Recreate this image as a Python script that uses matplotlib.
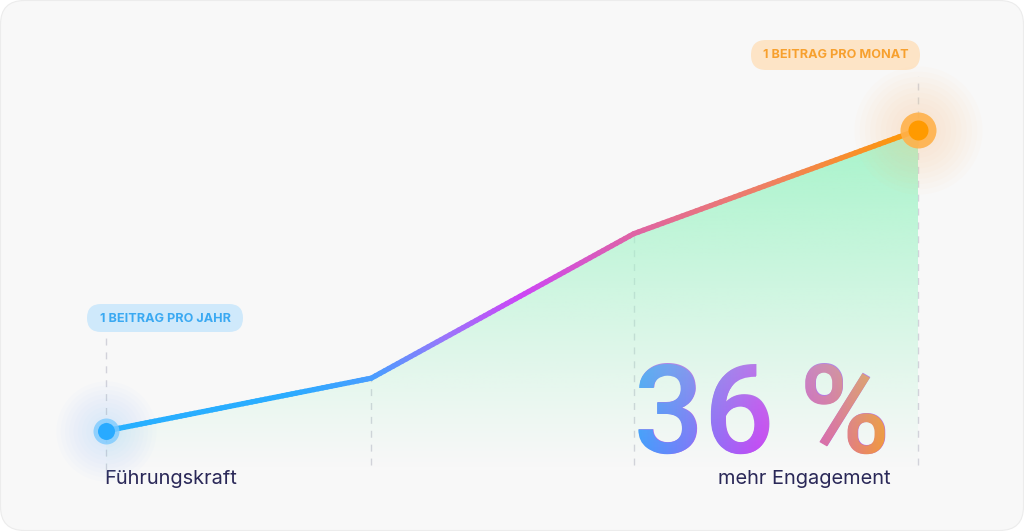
import numpy as np
import matplotlib
matplotlib.use("Agg")
import matplotlib.pyplot as plt
from matplotlib.patches import FancyBboxPatch, Polygon, PathPatch
from matplotlib.collections import LineCollection
from matplotlib.colors import LinearSegmentedColormap, to_rgb
from matplotlib.textpath import TextPath
from matplotlib.font_manager import FontProperties
from matplotlib.transforms import Affine2D, IdentityTransform

plt.rcParams['font.family'] = ['Inter', 'DejaVu Sans']

# ---- data ----
stage_pos = [0.0, 0.98, 1.95, 3.0]
engagement = [11.5, 27.0, 69.5, 100.0]
label_low = "1 BEITRAG PRO JAHR"
label_high = "1 BEITRAG PRO MONAT"
caption_left = "Führungskraft"
caption_right = "mehr Engagement"
big_number = "36\u2009%"

W, H = 1024, 531
DPI = 100
fig = plt.figure(figsize=(W / DPI, H / DPI), dpi=DPI, facecolor="white")

# background axes in pixel coordinates
bg = fig.add_axes([0, 0, 1, 1])
bg.set_xlim(0, W)
bg.set_ylim(H, 0)
bg.axis("off")
bg.add_patch(FancyBboxPatch((0.5, 0.5), W - 1, H - 1,
                            boxstyle="round,pad=0,rounding_size=24",
                            facecolor="#f8f8f8", edgecolor="#ececec", lw=0.8))

# data axes
x0, x1 = 106, 918
ybot, ytop = 470, 130
ax = fig.add_axes([x0 / W, 1 - ybot / H, (x1 - x0) / W, (ybot - ytop) / H])
ax.set_xlim(0, 3)
ax.set_ylim(0, 100)
ax.axis("off")
ax.patch.set_alpha(0)

xs = np.array(stage_pos, dtype=float)
ys = np.array(engagement, dtype=float)

# gradient fill under the line
poly = Polygon(np.column_stack([np.r_[xs, xs[-1], xs[0]], np.r_[ys, 0, 0]]),
               closed=True, facecolor="none", edgecolor="none")
ax.add_patch(poly)
n = 256
alpha = np.linspace(0, 1, n)[:, None] ** 1.1
img = np.zeros((n, 2, 4))
img[..., :3] = to_rgb("#a6f4ca")
img[..., 3] = alpha
im = ax.imshow(img, extent=[0, 3, 0, 100], origin="lower", aspect="auto", zorder=1)
im.set_clip_path(poly)

# dashed guides
dash_kw = dict(color="#d2d2da", lw=1.0, linestyle=(0, (5, 5)), zorder=0.5, clip_on=False)
ax.plot([xs[0], xs[0]], [0, 39.5], **dash_kw)
ax.plot([xs[1], xs[1]], [1.5, ys[1]], **dash_kw)
ax.plot([xs[2], xs[2]], [1.5, ys[2]], **dash_kw)
ax.plot([xs[3], xs[3]], [1.5, 116], **dash_kw)

# gradient line
line_cmap = LinearSegmentedColormap.from_list("ln", [
    (0.0, "#28b0ff"), (0.22, "#2aacff"), (0.33, "#4a9dff"), (0.42, "#9c74fb"),
    (0.51, "#cc46f6"), (0.65, "#df64a4"), (0.82, "#ef8160"), (1.0, "#ff9a00")])
seg_x, seg_y = [], []
for i in range(len(xs) - 1):
    t = np.linspace(0, 1, 60, endpoint=(i == len(xs) - 2))
    seg_x.append(xs[i] + (xs[i + 1] - xs[i]) * t)
    seg_y.append(ys[i] + (ys[i + 1] - ys[i]) * t)
px = np.concatenate(seg_x)
py = np.concatenate(seg_y)
pts = np.column_stack([px, py]).reshape(-1, 1, 2)
segs = np.concatenate([pts[:-1], pts[1:]], axis=1)
lc = LineCollection(segs, colors=line_cmap(px[:-1] / 3), linewidths=3.8,
                    capstyle="round", joinstyle="round", zorder=3, clip_on=False)
ax.add_collection(lc)

def s_of(r):
    return (2 * r * 0.72) ** 2

# glows and markers
for r in np.linspace(16, 50, 9):
    ax.scatter([xs[0]], [ys[0]], s=s_of(r), color="#8ccbff", alpha=0.028, lw=0, zorder=2, clip_on=False)
ax.scatter([xs[0]], [ys[0]], s=s_of(13), color="#7ccaff", alpha=0.8, lw=0, zorder=4, clip_on=False)
ax.scatter([xs[0]], [ys[0]], s=s_of(8.5), color="#28aaff", lw=0, zorder=5, clip_on=False)

for r in np.linspace(22, 64, 9):
    ax.scatter([xs[-1]], [ys[-1]], s=s_of(r), color="#ffcf95", alpha=0.04, lw=0, zorder=2, clip_on=False)
ax.scatter([xs[-1]], [ys[-1]], s=s_of(18), color="#ffb14a", alpha=0.9, lw=0, zorder=4, clip_on=False)
ax.scatter([xs[-1]], [ys[-1]], s=s_of(10), color="#ff9a00", lw=0, zorder=5, clip_on=False)

# pill labels
bg.add_patch(FancyBboxPatch((87, 304), 156, 28, boxstyle="round,pad=0,rounding_size=14",
                            facecolor="#cfe9fb", edgecolor="none", zorder=3))
bg.text(165, 318.5, label_low, ha="center", va="center", fontsize=9.1,
        fontweight="bold", color="#3aa9f2", zorder=4)
bg.add_patch(FancyBboxPatch((751, 40), 169, 30, boxstyle="round,pad=0,rounding_size=15",
                            facecolor="#fde4c6", edgecolor="none", zorder=3))
bg.text(835.5, 55.5, label_high, ha="center", va="center", fontsize=9.1,
        fontweight="bold", color="#f7a02e", zorder=4)

# captions
bg.text(104, 479, caption_left, ha="left", va="center", fontsize=14.4, color="#2a2858", zorder=4)
bg.text(891, 479, caption_right, ha="right", va="center", fontsize=14.4, color="#2a2858", zorder=4)

# big gradient number: real text, overlaid by a gradient clipped to its outline
num_size = 89
num_weight = "medium"
num_family = ['Roboto', 'DejaVu Sans']
num_text = bg.text(890, 453, big_number, ha="right", va="baseline", fontsize=num_size,
                   fontweight=num_weight, family=num_family, color="#b85cf0", zorder=5)
fig.canvas.draw()
bb = num_text.get_window_extent()
prop = FontProperties(family=num_family, weight=num_weight)
tp = TextPath((0, 0), big_number, size=num_size, prop=prop)
tr = Affine2D().scale(DPI / 72.0).translate(bb.x0, H - 453)
clip_patch = PathPatch(tr.transform_path(tp), transform=IdentityTransform(),
                       facecolor="none", edgecolor="none")
bg.add_artist(clip_patch)
num_cmap = LinearSegmentedColormap.from_list("num", [
    (0.0, "#3a9fff"), (0.5, "#c846f6"), (0.78, "#e0709a"), (1.0, "#f89c28")])
grad = num_cmap(np.linspace(0, 1, 256))[None, :, :]
gim = bg.imshow(grad, extent=[bb.x0 - 2, bb.x1 + 2, 465, 350], aspect="auto", zorder=6)
gim.set_clip_path(clip_patch)
bg.set_xlim(0, W)
bg.set_ylim(H, 0)

fig.savefig("out.png", dpi=DPI, facecolor="white")
